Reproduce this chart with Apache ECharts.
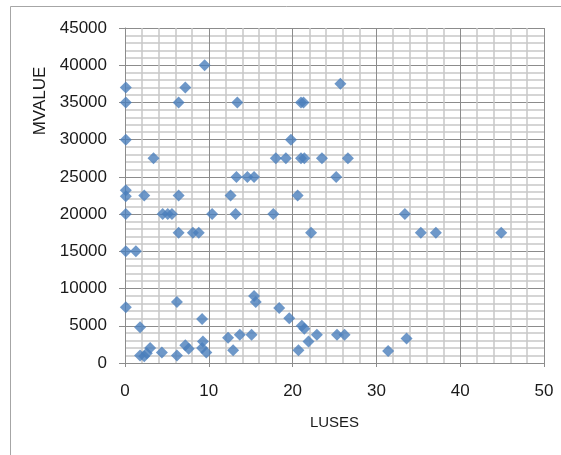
<!DOCTYPE html>
<html>
<head>
<meta charset="utf-8">
<script src="https://cdn.jsdelivr.net/npm/echarts@6/dist/echarts.min.js"></script>
<style>html,body{margin:0;padding:0;background:#fff;}#c{width:561px;height:455px;}</style>
</head>
<body>
<div id="c"></div>
<script>
const xTitle = 'LUSES';
const yTitle = 'MVALUE';
const xAxisRange = [0, 50, 10];
const yAxisRange = [0, 45000, 5000];
const luses = [
  0.1, 0.1, 9.5, 7.2, 6.4, 0.1, 3.4, 0.1, 0.1, 2.3, 6.4, 0.1, 4.5, 5.1, 5.6, 10.4,
  6.4, 8.1, 8.8, 0.1, 1.3, 0.1, 1.8, 6.2, 9.2, 1.8, 2.3, 2.6, 3.0, 4.4, 6.2, 7.2,
  7.6, 9.3, 9.2, 9.7, 12.3, 12.9, 13.7, 15.1, 15.4, 15.6, 18.4, 19.6, 21.1, 21.4,
  22.9, 21.9, 20.7, 25.3, 26.2, 31.4, 33.6, 13.4, 21.0, 21.3, 25.7, 19.8, 18.0, 19.2,
  21.0, 21.4, 23.5, 26.6, 25.2, 13.3, 14.6, 15.4, 12.6, 20.6, 13.2, 17.7, 22.2, 33.4,
  35.3, 37.1, 44.9
];
const mvalue = [
  37000, 35000, 40000, 37000, 35000, 30000, 27500, 23200, 22400, 22500, 22500, 20000, 20000, 20000, 20000, 20000,
  17500, 17500, 17500, 15000, 15000, 7500, 4800, 8200, 5900, 1000, 900, 1300, 2000, 1400, 1000, 2400,
  1900, 2900, 2000, 1400, 3400, 1700, 3800, 3800, 9000, 8200, 7400, 6000, 5000, 4600,
  3800, 2900, 1700, 3800, 3800, 1600, 3300, 35000, 35000, 35000, 37500, 30000, 27500, 27500,
  27500, 27500, 27500, 27500, 25000, 25000, 25000, 25000, 22500, 22500, 20000, 20000, 17500, 20000,
  17500, 17500, 17500
];
const points = luses.map((x, i) => [x, mvalue[i]]);

const chart = echarts.init(document.getElementById('c'), null, {renderer: 'canvas'});
const major = '#8c8c8c', minor = '#c8c8c8';
const tickFont = {fontFamily: 'Liberation Sans', fontSize: 17, color: '#1a1a1a', formatter: v => String(v)};
chart.setOption({
  animation: false,
  backgroundColor: '#fff',
  grid: {left: 125, right: 17, top: 28, bottom: 92},
  xAxis: {
    type: 'value', min: xAxisRange[0], max: xAxisRange[1], interval: xAxisRange[2],
    name: xTitle, nameLocation: 'middle', nameGap: 52,
    nameTextStyle: {fontFamily: 'Liberation Sans', fontSize: 15, color: '#1a1a1a'},
    axisLine: {show: true, lineStyle: {color: major, width: 1}},
    axisTick: {show: true, inside: false, length: 4, lineStyle: {color: major}},
    axisLabel: Object.assign({margin: 20}, tickFont),
    splitLine: {show: true, lineStyle: {color: major, width: 1}},
    minorTick: {show: false, splitNumber: 5},
    minorSplitLine: {show: true, lineStyle: {color: minor, width: 1.5}}
  },
  yAxis: {
    type: 'value', min: yAxisRange[0], max: yAxisRange[1], interval: yAxisRange[2],
    axisLine: {show: true, lineStyle: {color: major, width: 1}},
    axisTick: {show: true, inside: false, length: 6, lineStyle: {color: major}},
    axisLabel: Object.assign({margin: 18}, tickFont),
    splitLine: {show: true, lineStyle: {color: major, width: 1}},
    minorTick: {show: false, splitNumber: 5},
    minorSplitLine: {show: true, lineStyle: {color: minor, width: 1.5}}
  },
  graphic: [
    {type: 'rect', shape: {x: 10.5, y: 6.5, width: 700, height: 700}, style: {fill: 'none', stroke: '#a6a6a6', lineWidth: 1}, silent: true, z: -10},
    {type: 'text', x: 40.5, y: 101, rotation: Math.PI / 2,
     style: {text: yTitle, fontFamily: 'Liberation Sans', fontSize: 17, fill: '#1a1a1a', align: 'center', verticalAlign: 'middle'}}
  ],
  series: [{
    type: 'scatter',
    data: points,
    symbol: 'diamond',
    symbolSize: 12,
    itemStyle: {color: '#4A7EBB'}
  }]
});
</script>
</body>
</html>
